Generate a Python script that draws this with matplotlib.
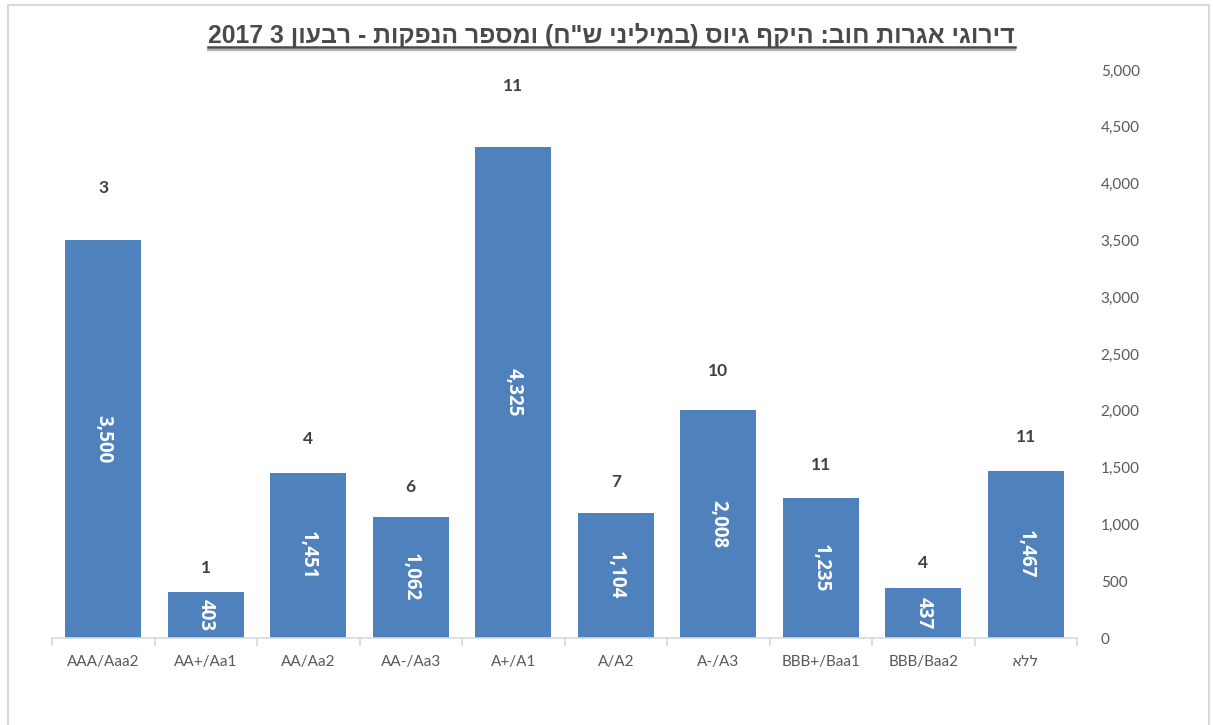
import re
import matplotlib
matplotlib.use('Agg')
import matplotlib.pyplot as plt
from matplotlib.ticker import FuncFormatter, MultipleLocator
from matplotlib.lines import Line2D
from matplotlib.patches import Rectangle

categories = ['AAA/Aaa2', 'AA+/Aa1', 'AA/Aa2', 'AA-/Aa3', 'A+/A1', 'A/A2',
              'A-/A3', 'BBB+/Baa1', 'BBB/Baa2', 'ללא']
amounts = [3500, 403, 1451, 1062, 4325, 1104, 2008, 1235, 437, 1467]
issues = [3, 1, 4, 6, 11, 7, 10, 11, 4, 11]
title = 'דירוגי אגרות חוב: היקף גיוס (במיליני ש"ח) ומספר הנפקות - רבעון 3 2017'


def visual(s):
    """Convert logical RTL Hebrew text to visual (left-to-right) order."""
    if not re.search('[\u0590-\u05FF]', s):
        return s
    r = s[::-1]
    r = r.translate(str.maketrans('()', ')('))
    r = re.sub(r'\d+', lambda m: m.group(0)[::-1], r)
    return r


W, H = 1213, 725
fig = plt.figure(figsize=(W / 100, H / 100), dpi=100)
ax = fig.add_axes([52 / W, 87 / H, 1025 / W, 568 / H])

x = list(range(len(categories)))
bars = ax.bar(x, amounts, width=0.74, color='#4F81BD', zorder=2)
ax.set_xlim(-0.5, len(categories) - 0.5)
ax.set_ylim(0, 5000)

ax.yaxis.tick_right()
ax.yaxis.set_major_locator(MultipleLocator(500))
ax.yaxis.set_major_formatter(FuncFormatter(lambda v, p: f'{v:,.0f}'))
ax.tick_params(axis='y', length=0, pad=17, labelsize=11, labelcolor='#595959')
for lab in ax.get_yticklabels():
    lab.set_family(['Lato', 'DejaVu Sans'])

for s in ['top', 'left', 'right']:
    ax.spines[s].set_visible(False)
ax.spines['bottom'].set_color('#D9D9D9')
ax.spines['bottom'].set_linewidth(1.2)

ax.set_xticks(x)
ax.set_xticklabels([visual(c) for c in categories], family=['Lato', 'DejaVu Sans'],
                   fontsize=11, color='#595959')
ax.tick_params(axis='x', which='major', length=0, pad=12)
ax.set_xticks([i - 0.5 for i in range(len(categories) + 1)], minor=True)
ax.tick_params(axis='x', which='minor', length=6, color='#D9D9D9', width=1.2)

for xi, v, n in zip(x, amounts, issues):
    ax.text(xi, v / 2, f'{v:,}', rotation=270, ha='center', va='center',
            color='white', fontsize=13.5, fontweight='bold',
            family=['Open Sans', 'DejaVu Sans'], zorder=3)
    ax.text(xi, v * 1.08 + 185, f'{n}', ha='center', va='center',
            color='#404040', fontsize=12.5, fontweight='bold',
            family=['Lato', 'DejaVu Sans'], zorder=3)

# outer frame
fig.add_artist(Rectangle((8 / W, -0.02), (1209 - 8) / W, 1.02 - 5 / H,
                         transform=fig.transFigure, fill=False,
                         edgecolor='#D9D9D9', linewidth=1.5))

t = fig.text(0.504, 1 - 43 / H, visual(title), ha='center', va='baseline',
             fontsize=17.8, fontweight='bold', color='#4A4A4A',
             family=['Liberation Sans', 'DejaVu Sans'])
fig.canvas.draw()
bb = t.get_window_extent()
inv = fig.transFigure.inverted()
(x0, _), (x1, _) = inv.transform([(bb.x0, 0), (bb.x1, 0)])
yl = 1 - 47 / H
ys = 1 - 49.5 / H
fig.add_artist(Line2D([x0, x1], [ys, ys], transform=fig.transFigure,
                      color='#B0B0B0', linewidth=1.6))
fig.add_artist(Line2D([x0, x1], [yl, yl], transform=fig.transFigure,
                      color='#4A4A4A', linewidth=1.8))

fig.savefig('out.png', dpi=100)
